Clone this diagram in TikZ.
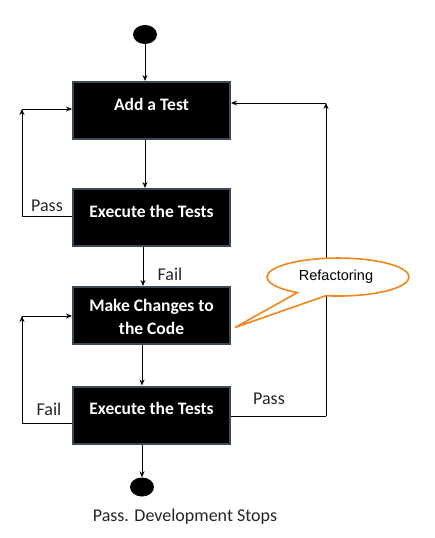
\documentclass[tikz,border=0pt]{standalone}
\usepackage{fontspec}
\setmainfont{Carlito}
\newfontfamily\arialf{Liberation Sans}
\usetikzlibrary{arrows.meta,shapes.geometric}
\definecolor{boxborder}{HTML}{3D4856}
\definecolor{callorange}{HTML}{F0861E}
\tikzset{
  box/.style={draw=boxborder, line width=2pt, fill=black, minimum width=157pt, minimum height=57pt, inner sep=0pt},
  boxtext/.style={text=white, font=\fontsize{17.5}{21}\selectfont\bfseries, align=center, inner sep=0pt},
  dot/.style={ellipse, fill=black, minimum width=24pt, minimum height=19pt, inner sep=0pt},
  lbl/.style={font=\fontsize{18}{21}\selectfont, inner sep=0pt, text=black!85},
  arr/.style={-{Stealth[length=6pt,width=5pt]}, line width=0.9pt},
  ln/.style={line width=0.9pt}
}
\begin{document}
\begin{tikzpicture}[x=1pt,y=-1pt]
\useasboundingbox (0,0) rectangle (434,538);
% nodes
\node[dot] (start) at (145,34.5) {};
\node[box] (b1) at (151.5,110.5) {};
\node[boxtext] (t1) at (151.5,104) {Add a Test};
\node[box] (b2) at (151.5,217.5) {};
\node[boxtext] (t2) at (151.5,211) {Execute the Tests};
\node[box] (b3) at (151.5,315.5) {};
\node[boxtext] (t3) at (151.5,316.5) {Make Changes to\\[2pt]the Code};
\node[box] (b4) at (151.5,415) {};
\node[boxtext] (t4) at (151.5,408) {Execute the Tests};
\node[dot] (stop) at (142,487) {};
\node[lbl] (stoplbl) at (185,517) {Pass. Development Stops};
% coordinates
\coordinate (c1) at (145,0);
\coordinate (c2) at (143,0);
\coordinate (c3) at (142,0);
\coordinate (la1) at (22,216.7);
\coordinate (la2) at (22,109);
\coordinate (lb1) at (22,423);
\coordinate (lb2) at (22,316);
\coordinate (ra1) at (326,416);
\coordinate (ra2) at (326,103);
% main flow
\draw[arr] (start) -- (c1 |- b1.north);
\draw[arr] (c1 |- b1.south) -- (c1 |- b2.north);
\draw[arr] (c2 |- b2.south) -- (c2 |- b3.north);
\draw[arr] (c3 |- b3.south) -- (c3 |- b4.north);
\draw[arr] (c3 |- b4.south) -- (stop);
% left loop 1
\draw[ln] (b2.west |- la1) -- (la1);
\draw[arr] (la1) -- (la2);
\draw[arr] (la2) -- (b1.west |- la2);
% left loop 2
\draw[ln] (b4.west |- lb1) -- (lb1);
\draw[arr] (lb1) -- (lb2);
\draw[arr] (lb2) -- (b3.west |- lb2);
% right loop
\draw[ln] (b4.east |- ra1) -- (ra1);
\draw[arr] (ra1) -- (ra2);
\draw[arr] (ra2) -- (b1.east |- ra2);
% labels
\node[lbl] (pass1) at (47,206) {Pass};
\node[lbl] (fail1) at (170,274) {Fail};
\node[lbl] (fail2) at (49,409) {Fail};
\node[lbl] (pass2) at (269,399) {Pass};
% callout
\coordinate (tip) at (235,327.5);
\coordinate (p1) at (297.3,292.6);
\filldraw[draw=callorange, fill=white, line width=1.6pt, line join=miter]
  (tip) -- (p1) arc[start angle=235, end angle=-100, x radius=71pt, y radius=19pt] -- cycle;
\node[font=\arialf\fontsize{14.5}{17}\selectfont, inner sep=0pt] (refac) at (336,277) {Refactoring};
\end{tikzpicture}
\end{document}
